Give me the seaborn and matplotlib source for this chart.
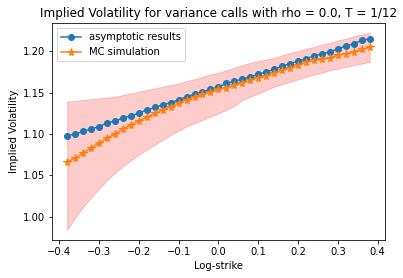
import numpy as np
import pandas as pd
import seaborn as sns
import matplotlib
matplotlib.use('Agg')
import matplotlib.pyplot as plt

# log-strikes
log_strike = np.round(np.arange(-0.38, 0.381, 0.02), 2)

# implied vols
asymptotic = [1.098, 1.100, 1.103, 1.106, 1.109, 1.113, 1.116, 1.119, 1.122, 1.125,
              1.129, 1.132, 1.135, 1.138, 1.141, 1.145, 1.148, 1.151, 1.154, 1.157,
              1.161, 1.164, 1.166, 1.169, 1.172, 1.175, 1.178, 1.182, 1.185, 1.188,
              1.191, 1.194, 1.197, 1.199, 1.203, 1.206, 1.209, 1.213, 1.215]
mc_vol = [1.066, 1.071, 1.077, 1.083, 1.089, 1.095, 1.100, 1.106, 1.111, 1.116,
          1.120, 1.125, 1.129, 1.133, 1.137, 1.141, 1.145, 1.148, 1.151, 1.154,
          1.156, 1.159, 1.162, 1.165, 1.168, 1.170, 1.174, 1.177, 1.180, 1.183,
          1.187, 1.189, 1.190, 1.192, 1.195, 1.197, 1.199, 1.202, 1.205]
mc_upper = [1.139, 1.140, 1.141, 1.142, 1.143, 1.144, 1.145, 1.147, 1.149, 1.151,
            1.153, 1.155, 1.157, 1.159, 1.161, 1.164, 1.166, 1.169, 1.172, 1.174,
            1.177, 1.180, 1.183, 1.186, 1.188, 1.190, 1.192, 1.195, 1.198, 1.200,
            1.203, 1.205, 1.208, 1.210, 1.213, 1.215, 1.218, 1.220, 1.222]
mc_lower = [0.984, 0.999, 1.012, 1.023, 1.034, 1.044, 1.053, 1.061, 1.068, 1.075,
            1.081, 1.087, 1.093, 1.099, 1.104, 1.109, 1.113, 1.117, 1.121, 1.125,
            1.129, 1.134, 1.141, 1.145, 1.149, 1.153, 1.157, 1.160, 1.163, 1.166,
            1.169, 1.172, 1.174, 1.177, 1.179, 1.181, 1.183, 1.185, 1.187]

df = pd.DataFrame({'k': log_strike, 'asym': asymptotic, 'mc': mc_vol,
                   'lo': mc_lower, 'hi': mc_upper})

fig, ax = plt.subplots(figsize=(403 / 72, 278 / 72), dpi=72)
fig.subplots_adjust(left=0.129, right=0.955, top=0.917, bottom=0.137)

sns.lineplot(data=df, x='k', y='asym', marker='o', color='tab:blue',
             markeredgecolor='tab:blue', markeredgewidth=1,
             label='asymptotic results', ax=ax)
sns.lineplot(data=df, x='k', y='mc', marker='*', color='tab:orange',
             markeredgecolor='tab:orange', markeredgewidth=1, markersize=8,
             label='MC simulation', ax=ax)
ax.fill_between(df['k'], df['lo'], df['hi'], color='r', alpha=0.2)

ax.set_title('Implied Volatility for variance calls with rho = 0.0, T = 1/12')
ax.set_xlabel('Log-strike')
ax.set_ylabel('Implied Volatility')
ax.legend(loc='upper left')

fig.savefig('out.png', dpi=72)
